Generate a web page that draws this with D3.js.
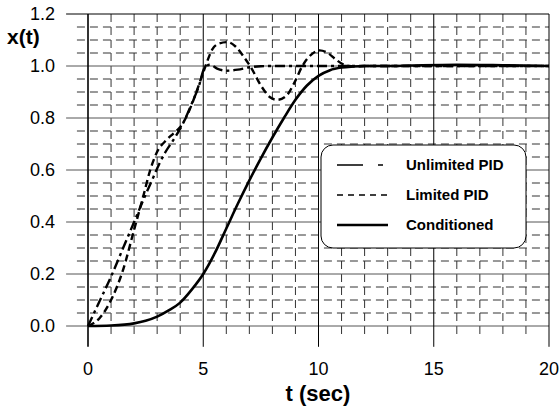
<!DOCTYPE html>
<html><head><meta charset="utf-8">
<script src="https://cdn.jsdelivr.net/npm/d3@7"></script>
<style>body{margin:0;background:#fff}svg{display:block;font-family:"Liberation Sans",Arial,sans-serif}</style>
</head><body><svg id="c" width="560" height="411"></svg>
<script>
// ---- data ----
const seriesNames = ["Unlimited PID", "Limited PID", "Conditioned"];
const unlimitedT = [0, 0.5, 1, 1.5, 2, 2.4, 2.8, 3.1, 3.4, 3.7, 4.1, 4.5, 4.8, 5.07, 5.3, 5.6, 6.0, 6.5, 7.0, 7.5, 8, 9, 10, 12, 15, 20];
const unlimitedX = [0, 0.095, 0.19, 0.295, 0.40, 0.485, 0.565, 0.625, 0.675, 0.715, 0.775, 0.855, 0.92, 0.995, 1.005, 0.99, 0.982, 0.986, 0.995, 0.999, 1.0, 1.0, 1.0, 1.0, 1.0, 1.0];
const limitedT = [0, 0.5, 1, 1.5, 2, 2.4, 2.7, 3.0, 3.4, 3.7, 4.0, 4.3, 4.6, 4.9, 5.1, 5.4, 5.7, 6.05, 6.4, 6.8, 7.1, 7.5, 7.9, 8.2, 8.6, 8.95, 9.3, 9.7, 10.05, 10.4, 10.75, 11.1, 11.6, 12, 15, 20];
const limitedX = [0, 0.03, 0.1, 0.21, 0.37, 0.5, 0.6, 0.67, 0.715, 0.74, 0.765, 0.81, 0.875, 0.95, 1.0, 1.065, 1.087, 1.092, 1.075, 1.03, 0.99, 0.925, 0.88, 0.87, 0.885, 0.935, 1.0, 1.045, 1.06, 1.05, 1.025, 1.005, 0.998, 1.0, 1.0, 1.0];
const condT = [0, 1, 2, 2.5, 3, 3.5, 4, 4.5, 5, 5.5, 6, 6.5, 7, 7.5, 8, 8.5, 9, 9.5, 10, 10.5, 11, 11.5, 12, 13, 14, 16, 18, 20];
const condX = [0, 0.002, 0.01, 0.02, 0.036, 0.06, 0.09, 0.14, 0.2, 0.28, 0.375, 0.47, 0.56, 0.645, 0.725, 0.8, 0.87, 0.925, 0.962, 0.984, 0.994, 0.998, 1.0, 1.0, 1.002, 1.005, 1.003, 1.0];
const xTicks = [0, 5, 10, 15, 20];
const yTicks = [0, 0.2, 0.4, 0.6, 0.8, 1.0, 1.2];
const xMinor = d3.range(1, 20).filter(v => v % 5 !== 0);
const yMinor = d3.range(1, 24).map(i => i * 0.05).filter((v, i) => (i + 1) % 4 !== 0);

// ---- scales ----
const svg = d3.select("#c");
const x = d3.scaleLinear().domain([0, 20]).range([88, 549]);
const y = d3.scaleLinear().domain([0, 1.2]).range([326, 14]);

// minor grid
const g = svg.append("g");
g.selectAll(".hm").data(yMinor).join("line")
  .attr("x1", x(-0.48)).attr("x2", x(20)).attr("y1", d => y(d)).attr("y2", d => y(d))
  .attr("stroke", "#333").attr("stroke-width", 1).attr("stroke-dasharray", "8,5");
g.selectAll(".vm").data(xMinor).join("line")
  .attr("x1", d => x(d)).attr("x2", d => x(d)).attr("y1", y(1.2)).attr("y2", y(-0.035))
  .attr("stroke", "#333").attr("stroke-width", 1).attr("stroke-dasharray", "8,5");
// major grid
g.selectAll(".hM").data(yTicks).join("line")
  .attr("x1", x(-0.95)).attr("x2", x(20)).attr("y1", d => y(d)).attr("y2", d => y(d))
  .attr("stroke", d => d === 1.2 ? "#000" : "#555").attr("stroke-width", 1);
g.selectAll(".vM").data(xTicks).join("line")
  .attr("x1", d => x(d)).attr("x2", d => x(d)).attr("y1", y(1.2)).attr("y2", y(-0.08))
  .attr("stroke", "#000").attr("stroke-width", d => d === 0 ? 1.6 : 1);

// tick labels
svg.selectAll(".yl").data(yTicks).join("text")
  .attr("x", 55).attr("y", d => y(d)).attr("dy", "0.36em").attr("text-anchor", "end")
  .attr("font-size", 18).text(d3.format(".1f"));
svg.selectAll(".xl").data(xTicks).join("text")
  .attr("x", d => x(d)).attr("y", 375).attr("text-anchor", "middle")
  .attr("font-size", 18).text(d => d);
svg.append("text").attr("x", 7).attr("y", 44).attr("font-size", 21).attr("font-weight", "bold").text("x(t)");
svg.append("text").attr("x", 318).attr("y", 401).attr("text-anchor", "middle").attr("font-size", 22).attr("font-weight", "bold").text("t (sec)");

// curves
const line = d3.line().x(d => x(d[0])).y(d => y(d[1])).curve(d3.curveMonotoneX);
const styles = [
  {dash: "10,4,3,4", w: 2.4},
  {dash: "7,4", w: 2.4},
  {dash: null, w: 2.6}
];
const data = [d3.zip(unlimitedT, unlimitedX), d3.zip(limitedT, limitedX), d3.zip(condT, condX)];
data.forEach((d, i) => {
  svg.append("path").attr("d", line(d)).attr("fill", "none").attr("stroke", "#000")
    .attr("stroke-width", styles[i].w).attr("stroke-dasharray", styles[i].dash);
});

// legend
const lg = svg.append("g");
lg.append("rect").attr("x", 321).attr("y", 145).attr("width", 205).attr("height", 103).attr("rx", 12)
  .attr("fill", "#fff").attr("stroke", "#000").attr("stroke-width", 1);
const legDash = ["26,15,5,15", "6,5", null];
seriesNames.forEach((n, i) => {
  const yy = 165 + i * 30;
  lg.append("line").attr("x1", 337).attr("x2", 388).attr("y1", yy).attr("y2", yy)
    .attr("stroke", "#000").attr("stroke-width", i === 2 ? 2.4 : 1.6).attr("stroke-dasharray", legDash[i]);
  lg.append("text").attr("x", 406).attr("y", yy).attr("dy", "0.35em").attr("font-size", 15)
    .attr("font-weight", "bold").text(n);
});
</script></body></html>
